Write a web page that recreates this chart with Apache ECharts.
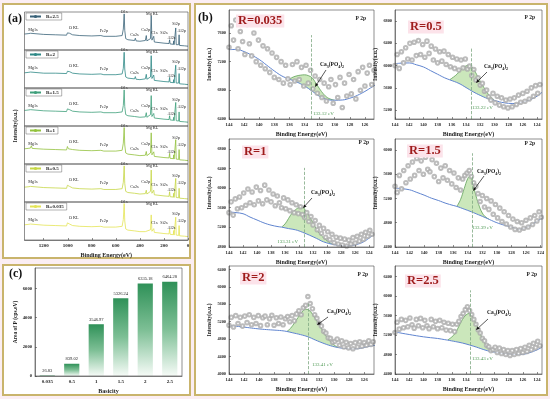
<!DOCTYPE html>
<html><head><meta charset="utf-8">
<script src="https://cdn.jsdelivr.net/npm/echarts@6/dist/echarts.min.js"></script>
<style>
html,body{margin:0;padding:0;background:#fbeef3;}
#wrap{position:relative;width:550px;height:399px;}
.panel{position:absolute;box-sizing:border-box;border:2px solid #c9b46c;background:#fff;}
#chart{position:absolute;left:0;top:0;width:550px;height:399px;}
</style></head><body>
<div id="wrap">
<div class="panel" style="left:2px;top:3px;width:189px;height:256px"></div>
<div class="panel" style="left:2px;top:264px;width:189px;height:132px"></div>
<div class="panel" style="left:194px;top:3px;width:354px;height:393px"></div>
<div id="chart"></div>
</div>
<script>
// ---------------- (a) XPS survey spectra ----------------
const surveyNames = ['R=2.5','R=2','R=1.5','R=1','R=0.5','R=0.035'];
const surveyTicks = [0,200,400,600,800,1000,1200];
const s25 = [[1360,42],[1330,43],[1310,44],[1303,49],[1296,43],[1200,41],[1100,40],[1010,39],[1003,45],[995,42],[985,44],[960,40],[900,38],[800,37],[725,38],[712,41],[700,36],[600,36],[548,38],[538,55],[531,95],[526,52],[518,30],[500,27],[445,25],[438,31],[432,24],[400,23],[355,25],[347,38],[342,24],[312,30],[306,90],[300,26],[289,27],[285,36],[280,21],[200,18],[158,17],[153,27],[149,16],[122,15],[119,24],[116,14],[106,16],[102,58],[98,14],[78,14],[74,40],[70,12],[30,11],[0,10]];
const s2 = [[1360,40],[1330,41],[1310,42],[1303,47],[1296,41],[1200,39],[1100,39],[1010,38],[1003,44],[995,41],[985,43],[960,39],[900,37],[800,36],[725,37],[712,40],[700,35],[600,35],[548,37],[538,52],[531,94],[526,50],[518,29],[500,26],[445,24],[438,30],[432,23],[400,22],[355,24],[347,36],[342,23],[312,29],[306,85],[300,25],[289,26],[285,34],[280,20],[200,17],[158,16],[153,28],[149,15],[122,14],[119,22],[116,13],[106,15],[102,60],[98,13],[78,13],[74,38],[70,11],[30,10],[0,9]];
const s15 = [[1360,41],[1330,42],[1310,43],[1303,48],[1296,42],[1200,40],[1100,39],[1010,38],[1003,45],[995,41],[985,43],[960,39],[900,37],[800,36],[725,37],[712,40],[700,35],[600,35],[548,37],[538,54],[531,95],[526,51],[518,30],[500,27],[445,25],[438,30],[432,24],[400,23],[355,24],[347,35],[342,23],[312,30],[306,80],[300,25],[289,26],[285,33],[280,21],[200,18],[158,17],[153,27],[149,16],[122,15],[119,23],[116,14],[106,15],[102,62],[98,14],[78,13],[74,37],[70,12],[30,11],[0,10]];
const s1 = [[1360,40],[1330,41],[1310,42],[1303,48],[1296,41],[1200,39],[1100,38],[1010,37],[1003,46],[995,40],[985,42],[960,38],[900,36],[800,35],[725,36],[712,39],[700,34],[600,34],[548,36],[538,55],[531,96],[526,50],[518,29],[500,26],[445,24],[438,29],[432,23],[400,22],[355,23],[347,33],[342,22],[312,29],[306,82],[300,24],[289,25],[285,32],[280,20],[200,17],[158,16],[153,28],[149,15],[122,14],[119,24],[116,13],[106,14],[102,64],[98,13],[78,12],[74,38],[70,11],[30,10],[0,9]];
const s05 = [[1360,39],[1330,40],[1310,41],[1303,46],[1296,40],[1200,38],[1100,37],[1010,36],[1003,44],[995,39],[985,41],[960,37],[900,35],[800,34],[725,35],[712,38],[700,33],[600,33],[548,35],[538,52],[531,95],[526,49],[518,28],[500,25],[445,23],[438,28],[432,22],[400,21],[355,22],[347,31],[342,21],[312,28],[306,84],[300,23],[289,24],[285,31],[280,19],[200,16],[158,15],[153,27],[149,14],[122,13],[119,23],[116,12],[106,13],[102,62],[98,12],[78,11],[74,36],[70,10],[30,9],[0,8]];
const s035 = [[1360,40],[1330,41],[1310,42],[1303,47],[1296,41],[1200,39],[1100,38],[1010,37],[1003,45],[995,40],[985,42],[960,38],[900,36],[800,35],[725,36],[712,39],[700,34],[600,34],[548,36],[538,54],[531,96],[526,50],[518,29],[500,26],[445,24],[400,22],[355,22],[312,27],[306,66],[300,23],[289,24],[285,30],[280,20],[200,17],[158,16],[153,29],[149,15],[122,14],[119,25],[116,13],[106,14],[102,60],[98,13],[78,12],[74,38],[70,11],[30,10],[0,9]];
const surveySets = [s25, s2, s15, s1, s05, s035];
const surveyPeakNames = ['Mg1s','O KL','Fe2p','O1s','Ca2s','Ca2p','Mg KL','C1s','Si2s','Al2s','Si2p','Al2p'];

// ---------------- (c) peak area vs basicity ----------------
const basicity = ['0.035','0.5','1','1.5','2','2.5'];
const areaP = [26.83, 839.02, 3546.97, 5326.24, 6335.18, 6464.28];
const areaTicks = [0,2000,4000,6000];

// ---------------- (b) P 2p high-resolution spectra ----------------
const p2pNames = ['R=0.035','R=0.5','R=1','R=1.5','R=2','R=2.5'];
const peakCenter = [133.12, 133.22, 133.31, 133.39, 133.41, 133.43];
const scanBE = [144.0,143.7,143.4,143.1,142.8,142.5,142.2,141.9,141.6,141.3,141.0,140.7,140.4,140.1,139.8,139.5,139.2,138.9,138.6,138.3,138.0,137.7,137.4,137.1,136.8,136.5,136.2,135.9,135.6,135.3,135.0,134.7,134.4,134.1,133.8,133.5,133.2,132.9,132.6,132.3,132.0,131.7,131.4,131.1,130.8,130.5,130.2,129.9,129.6,129.3,129.0,128.7,128.4,128.1,127.8,127.5,127.2,126.9,126.6,126.3,126.0,125.7,125.4,125.1,124.8,124.5,124.2,123.9,123.6];
const scan035 = [7400,7700,7500,7780,7380,7620,7480,7300,7720,7450,7280,7600,7200,7500,7150,7420,7100,7380,7050,7320,6980,7260,6950,7200,6900,7150,6960,6880,7160,6930,7200,6950,7120,6860,7150,6900,7080,6820,7000,6760,6950,6700,6900,6650,6850,6950,6620,6880,6700,6980,6560,6900,6720,7020,6750,6950,6680,7060,6800,7120,6860,7040,7150,6880,7080,6950,7100,7000,7150];
const scan05 = [6000,6200,5950,6250,6050,6320,6120,6400,6100,6420,6180,6450,6200,6380,6150,6440,6220,6350,6100,6300,6050,6250,6080,6260,6020,6200,5980,6150,5950,6120,5920,6100,5960,6120,5940,5990,5820,5930,5740,5780,5650,5680,5540,5560,5440,5380,5500,5330,5450,5290,5420,5260,5380,5240,5400,5260,5420,5300,5470,5340,5500,5360,5540,5400,5600,5450,5640,5500,5660];
const scan1 = [5500,5720,5450,5780,5580,5820,5600,5900,5650,5980,5700,5920,5660,6020,5740,5950,5680,6060,5760,5960,5720,5880,5640,5840,5700,5600,5800,5580,5760,5540,5700,5500,5660,5480,5620,5460,5400,5500,5320,5420,5250,5340,5150,5240,5080,5180,5000,5110,4950,5060,4890,5000,4860,4980,4840,4960,4820,4940,4860,4990,4880,5020,4920,5060,4960,5100,5020,5140,5060];
const scan15 = [5400,5300,5580,5360,5660,5460,5740,5520,5800,5580,5860,5660,5820,5600,5880,5680,5640,5840,5560,5780,5480,5700,5540,5740,5500,5660,5440,5620,5380,5540,5340,5520,5580,5620,5660,5560,5460,5400,5280,5150,5250,5060,5200,5020,5160,4940,5100,4880,5040,4820,4980,4780,4920,4730,4860,4690,4820,4680,4800,4710,4840,4730,4880,4770,4920,4830,4980,4890,5040];
const scan2 = [5120,5300,5080,5340,5160,5300,5100,5330,5180,5360,5130,5300,5160,5340,5110,5290,5330,5130,5270,5350,5120,5290,5160,5310,5130,5270,5320,5200,5340,5220,5380,5450,5360,5520,5580,5780,5620,5500,5360,5280,5170,5100,4980,4940,4830,4820,4730,4750,4800,4660,4760,4620,4730,4600,4700,4580,4720,4620,4740,4640,4720,4660,4760,4680,4740,4690,4760,4710,4780];
const scan25 = [5250,5460,5320,5520,5350,5500,5370,5550,5410,5340,5520,5390,5540,5350,5500,5390,5330,5520,5370,5480,5330,5500,5350,5460,5300,5440,5290,5420,5270,5420,5480,5580,5640,5720,5780,5700,5620,5520,5420,5310,5240,5130,5080,4990,4960,4880,4900,4950,4840,4930,4820,4900,4800,4880,4780,4880,4800,4900,4820,4920,4840,4950,4860,4990,4900,5030,4940,5070,4980];
const bg035 = [[144,7367],[143,7370],[142,7340],[141,7290],[140,7230],[139,7150],[138,7070],[137,7000],[136,6955],[135,6915],[134,6860],[133,6790],[132,6715],[131,6672],[130,6662],[129,6665],[128,6690],[127,6730],[126,6785],[125,6850],[124.5,6880]];
const env035 = [[136,6955],[135.5,6985],[135,7002],[134.5,7012],[134,7016],[133.5,7005],[133,6975],[132.5,6900],[132,6820],[131.5,6750],[131,6700],[130.5,6675],[130,6662]];
const bg05 = [[144,6036],[143,6045],[142,6048],[141,6015],[140,5976],[139,5910],[138,5845],[137,5780],[136.3,5745],[135,5680],[134,5606],[133,5530],[132,5465],[131,5410],[130,5375],[129,5340],[128,5322],[127,5318],[126,5345],[125,5385],[124,5450],[123.3,5520]];
const env05 = [[136.3,5745],[135.5,5820],[135,5880],[134.5,5950],[134,5995],[133.5,6005],[133,5950],[132.5,5840],[132,5720],[131.5,5610],[131,5510],[130.5,5430],[130,5375]];
const bg1 = [[144,5514],[143,5500],[142,5478],[141,5410],[140,5350],[139,5290],[138,5245],[137,5215],[136.5,5205],[135.5,5175],[134.5,5150],[133.5,5100],[132.5,5040],[131.5,4975],[130.5,4905],[129,4848],[128,4830],[127,4825],[126,4845],[125,4890],[124,4980],[123.3,5060]];
const env1 = [[136.5,5205],[136,5270],[135.5,5380],[135,5490],[134.5,5560],[134,5600],[133.5,5600],[133,5530],[132.5,5420],[132,5290],[131.5,5160],[131,5060],[130.5,4985],[130,4930],[129.5,4880],[129,4848]];
const bg15 = [[144,5370],[143,5360],[142,5343],[141,5300],[140,5255],[139,5205],[138,5165],[137,5120],[136,5085],[135.5,5069],[134.5,5025],[133.5,4980],[132.5,4930],[131.5,4880],[131,4852],[130,4800],[129,4760],[128,4730],[127,4690],[126,4720],[125,4785],[124,4860],[123.6,4890]];
const env15 = [[135.5,5069],[135,5180],[134.5,5360],[134,5530],[133.7,5570],[133.4,5500],[133,5300],[132.5,5100],[132,4960],[131.5,4890],[131,4852]];
const bg2 = [[144,5107],[143,5095],[142,5077],[141,5055],[140,5035],[139,5020],[138,5008],[137,4995],[136.3,4977],[135.5,4945],[134.5,4905],[133.5,4855],[132.5,4780],[131.5,4710],[130.5,4650],[129.5,4608],[128.5,4585],[127.5,4578],[126.5,4590],[125.5,4630],[124.5,4660]];
const env2 = [[136.3,4977],[135.8,5050],[135.3,5170],[134.8,5300],[134.3,5420],[133.8,5490],[133.4,5470],[133,5400],[132.5,5270],[132,5130],[131.5,4990],[131,4850],[130.5,4740],[130,4665],[129.5,4608]];
const bg25 = [[144,5265],[143,5235],[142,5210],[141,5185],[140,5163],[139,5145],[138,5129],[137,5105],[136.6,5095],[135.5,5065],[134.5,5035],[133.5,4995],[132.5,4950],[131.5,4900],[130.5,4860],[130,4850],[129,4825],[128,4808],[127,4802],[126,4805],[125,4840],[124,4895],[123.3,4950]];
const env25 = [[136.6,5095],[136,5160],[135.5,5240],[135,5380],[134.5,5520],[134,5610],[133.6,5640],[133.2,5600],[132.8,5500],[132.4,5370],[132,5230],[131.5,5070],[131,4960],[130.5,4885],[130,4850]];
const scanSets = [scan035, scan05, scan1, scan15, scan2, scan25];
const bgSets = [bg035, bg05, bg1, bg15, bg2, bg25];
const envSets = [env035, env05, env1, env15, env2, env25];
const p2pYTicks = [[6400,6800,7200,7600],[5200,5600,6000,6400,6800],[4800,5200,5600,6000,6400,6800],[4400,4800,5200,5600,6000],[4000,4400,4800,5200,5600,6000,6400],[4400,4800,5200,5600,6000,6400]];
const p2pXTicks = [[126,128,130,132,134,136,138,140,142,144],[124,126,128,130,132,134,136,138,140,142,144],[124,126,128,130,132,134,136,138,140,142,144],[124,126,128,130,132,134,136,138,140,142,144],[126,128,130,132,134,136,138,140,142,144],[124,126,128,130,132,134,136,138,140,142,144]];

// ---------------- layout / style config ----------------
const FONT = 'Liberation Serif';
const surveyColors = ['#3a6379','#2f8987','#3f9f7b','#93c23e','#c6d746','#e4e456'];
const surveyLabelPos = {'Mg1s':[1290,53],'O KL':[950,57],'Fe2p':[700,49],'O1s':[531,100],'Ca2s':[445,40],'Ca2p':[352,52],'Mg KL':[298,94],'C1s':[280,44],'Si2s':[200,46],'Al2s':[138,32],'Si2p':[100,68],'Al2p':[52,50]};
const p2pRange = [{x:[124.8,144],y:[6400,7920]},{x:[123.3,144],y:[5040,7000]},{x:[123.3,144],y:[4800,7000]},{x:[123.8,144],y:[4400,6180]},{x:[124.7,144],y:[4000,6480]},{x:[123.3,144],y:[4400,6615]}];
const p2pGrid = [{left:229,top:10,width:145,height:109},{left:395,top:10,width:147,height:109},{left:229,top:139,width:145,height:108},{left:395,top:139,width:147,height:108},{left:229,top:266,width:145,height:108},{left:395,top:266,width:147,height:108}];
const dashTop = [7570,6334,6412,5945,5630,6116];
const rLabelPos = [[236,21],[408,27],[242,152],[407,151],[240,278],[405,281]];
const p2pTagPos = [[366,19],[535,18],[369,143],[535,144],[368,275],[537,275]];
const caLabelPos = [[332,65],[496,67],[323,193],[489,172],[339,312],[499,313]];
const arrowPos = [[326,70,315,87],[487,72,476,83],[312,198,303,208],[484,176,473,191],[328,317,317,325],[488,319,476,330]];
const evLabelPos = [[313,114,'left'],[472,108,'left'],[298,242,'right'],[472,228,'left'],[312,365,'left'],[472,359,'left']];

const grid = [], xAxis = [], yAxis = [], series = [], legend = [], graphic = [];
const plain = v => String(v);
const tickFont = {fontFamily: FONT, fontWeight: 'bold', fontSize: 4.6, color: '#222', formatter: plain};

// survey grids
surveySets.forEach((data, i) => {
  grid.push({left: 24.5, top: 12 + i * 38, width: 163.5, height: 38, show: true, borderColor: '#444', borderWidth: 0.6, z: 10});
  const last = i === surveySets.length - 1;
  xAxis.push({gridIndex: i, type: 'value', min: 0, max: 1360, inverse: true, show: last,
    axisLine: {lineStyle: {color: '#444', width: 0.6}},
    axisTick: {inside: true, length: 2, customValues: surveyTicks, lineStyle: {width: 0.6}},
    axisLabel: {customValues: surveyTicks, margin: 3, ...tickFont, fontSize: 5},
    splitLine: {show: false},
    name: last ? 'Binding Energy(eV)' : '', nameLocation: 'middle', nameGap: 12,
    nameTextStyle: {fontFamily: FONT, fontWeight: 'bold', fontSize: 6, color: '#222'}});
  yAxis.push({gridIndex: i, type: 'value', min: 0, max: 100, show: false});
  const names = surveyPeakNames.filter(n => !(last && (n === 'Ca2s' || n === 'Ca2p')));
  series.push({name: surveyNames[i], type: 'line', xAxisIndex: i, yAxisIndex: i, data: data,
    symbol: 'none', lineStyle: {color: surveyColors[i], width: 0.8}, itemStyle: {color: surveyColors[i]},
    z: 3,
    markPoint: {symbol: 'circle', symbolSize: 0, silent: true,
      label: {show: true, position: 'inside', formatter: '{b}', fontFamily: FONT, fontSize: 4.2, color: '#222'},
      data: names.map(n => ({name: n, coord: surveyLabelPos[n]}))}});
  legend.push({data: [surveyNames[i]], left: 26, top: 13 + i * 38, orient: 'horizontal',
    itemWidth: 11, itemHeight: 4, itemGap: 2, itemTextGap: 3, padding: [1, 3],
    borderColor: '#666', borderWidth: 0.5, backgroundColor: '#fff',
    textStyle: {fontFamily: FONT, fontWeight: 'bold', fontSize: 5, color: '#222'}});
});

// bar grid (index 6)
grid.push({left: 35, top: 268, width: 147, height: 108, show: true, borderColor: '#444', borderWidth: 0.6, z: 10});
xAxis.push({gridIndex: 6, type: 'category', data: basicity,
  axisLine: {lineStyle: {color: '#444', width: 0.6}}, axisTick: {inside: true, length: 2, lineStyle: {width: 0.6}},
  axisLabel: {margin: 3, fontFamily: FONT, fontWeight: 'bold', fontSize: 5, color: '#222'},
  name: 'Basicity', nameLocation: 'middle', nameGap: 12,
  nameTextStyle: {fontFamily: FONT, fontWeight: 'bold', fontSize: 6, color: '#222'}});
yAxis.push({gridIndex: 6, type: 'value', min: 0, max: 7400,
  axisLine: {show: true, lineStyle: {color: '#444', width: 0.6}},
  axisTick: {show: true, inside: true, length: 2, customValues: areaTicks, lineStyle: {width: 0.6}},
  axisLabel: {customValues: areaTicks, margin: 3, ...tickFont, fontSize: 4.6},
  splitLine: {show: false},
  name: 'Area of P (cps.eV)', nameLocation: 'middle', nameGap: 14,
  nameTextStyle: {fontFamily: FONT, fontWeight: 'bold', fontSize: 5.5, color: '#222'}});
series.push({name: 'Area', type: 'bar', xAxisIndex: 6, yAxisIndex: 6, data: areaP, barWidth: '62%',
  itemStyle: {color: new echarts.graphic.LinearGradient(0, 0, 0, 1, [
    {offset: 0, color: '#2f9158'}, {offset: 0.5, color: '#7dbf95'}, {offset: 1, color: '#f6fbf7'}])},
  label: {show: true, position: 'top', distance: 2, formatter: p => p.value.toFixed(2),
    fontFamily: FONT, fontSize: 4.5, color: '#222'}});

// P 2p grids (index 7..12)
scanSets.forEach((ys, k) => {
  const gi = 7 + k;
  const r = p2pRange[k];
  grid.push({...p2pGrid[k], show: true, borderColor: '#444', borderWidth: 0.6, z: 10});
  xAxis.push({gridIndex: gi, type: 'value', min: r.x[0], max: r.x[1], inverse: true, z: 10,
    axisLine: {lineStyle: {color: '#444', width: 0.6}},
    axisTick: {inside: true, length: 2, customValues: p2pXTicks[k], lineStyle: {width: 0.6}},
    axisLabel: {customValues: p2pXTicks[k], margin: 3, ...tickFont},
    splitLine: {show: false},
    name: 'Binding Energy(eV)', nameLocation: 'middle', nameGap: 12,
    nameTextStyle: {fontFamily: FONT, fontWeight: 'bold', fontSize: 6, color: '#222'}});
  yAxis.push({gridIndex: gi, type: 'value', min: r.y[0], max: r.y[1], z: 10,
    axisLine: {show: true, lineStyle: {color: '#444', width: 0.6}},
    axisTick: {show: true, inside: true, length: 2, customValues: p2pYTicks[k], lineStyle: {width: 0.6}},
    axisLabel: {customValues: p2pYTicks[k], margin: 3, ...tickFont, fontSize: 4.3},
    splitLine: {show: false},
    name: 'Intensity(a.u.)', nameLocation: 'middle', nameGap: 16,
    nameTextStyle: {fontFamily: FONT, fontWeight: 'bold', fontSize: 5.5, color: '#222'}});
  series.push({name: 'fit' + k, type: 'line', xAxisIndex: gi, yAxisIndex: gi, data: envSets[k], smooth: 0.4,
    symbol: 'none', lineStyle: {color: '#5f9f58', width: 0.8}, areaStyle: {color: '#cbe7bb', opacity: 1}, z: 1});
  series.push({name: 'bg' + k, type: 'line', xAxisIndex: gi, yAxisIndex: gi, data: bgSets[k], smooth: 0.4,
    symbol: 'none', lineStyle: {color: '#5f84cf', width: 1}, areaStyle: {color: '#ffffff', opacity: 1}, z: 2});
  series.push({name: 'raw' + k, type: 'scatter', xAxisIndex: gi, yAxisIndex: gi,
    data: scanBE.map((x, j) => [x, ys[j]]), symbol: 'emptyCircle', symbolSize: 3.6,
    itemStyle: {color: '#ababab', borderColor: '#ababab', borderWidth: 0.45}, z: 3,
    markLine: {silent: true, symbol: ['none', 'none'], label: {show: false},
      lineStyle: {color: '#7fa883', type: 'dashed', width: 0.8},
      data: [[{coord: [peakCenter[k], r.y[0]]}, {coord: [peakCenter[k], dashTop[k]]}]]}});
});

// texts & arrows
const bold = s => `bold ${s}px "${FONT}"`;
graphic.push({type: 'text', x: 8, y: 19, style: {text: '(a)', font: bold(12), fill: '#111', verticalAlign: 'middle'}, z: 100});
graphic.push({type: 'text', x: 198, y: 18, style: {text: '(b)', font: bold(12), fill: '#111', verticalAlign: 'middle'}, z: 100});
graphic.push({type: 'text', x: 9, y: 274, style: {text: '(c)', font: bold(12), fill: '#111', verticalAlign: 'middle'}, z: 100});
graphic.push({type: 'text', x: 16, y: 126, rotation: Math.PI / 2,
  style: {text: 'Intensity(a.u.)', font: bold(5.5), fill: '#222', align: 'center', verticalAlign: 'middle'}, z: 100});
p2pNames.forEach((n, k) => {
  graphic.push({type: 'text', x: rLabelPos[k][0], y: rLabelPos[k][1],
    style: {text: n, font: bold(12.5), fill: '#9e1b1b', verticalAlign: 'middle', backgroundColor: '#fce3ea', padding: [0, 2]}, z: 100});
  graphic.push({type: 'text', x: p2pTagPos[k][0], y: p2pTagPos[k][1],
    style: {text: 'P 2p', font: bold(5.5), fill: '#222', align: 'right', verticalAlign: 'middle'}, z: 100});
  graphic.push({type: 'text', x: caLabelPos[k][0], y: caLabelPos[k][1],
    style: {text: '{m|Ca}{s|3}{m|(PO}{s|4}{m|)}{s|2}', align: 'center', verticalAlign: 'middle',
      rich: {m: {font: bold(5.5), fill: '#111', lineHeight: 8, verticalAlign: 'middle'},
             s: {font: bold(4), fill: '#111', lineHeight: 4, verticalAlign: 'bottom'}}}, z: 100});
  const [x1, y1, x2, y2] = arrowPos[k];
  const ang = Math.atan2(y2 - y1, x2 - x1), L = 3.6, W = 1.6;
  const bx = x2 - L * Math.cos(ang), by = y2 - L * Math.sin(ang);
  const px = -Math.sin(ang) * W, py = Math.cos(ang) * W;
  graphic.push({type: 'line', shape: {x1, y1, x2: bx, y2: by}, style: {stroke: '#111', lineWidth: 0.7}, z: 100});
  graphic.push({type: 'polygon', shape: {points: [[x2, y2], [bx + px, by + py], [bx - px, by - py]]}, style: {fill: '#111'}, z: 100});
  const [ex, ey, ea] = evLabelPos[k];
  graphic.push({type: 'text', x: ex, y: ey,
    style: {text: peakCenter[k].toFixed(2) + ' eV', font: `5px "${FONT}"`, fill: '#4f9a55', align: ea, verticalAlign: 'middle'}, z: 100});
});

const chart = echarts.init(document.getElementById('chart'), null, {renderer: 'canvas'});
chart.setOption({animation: false, backgroundColor: 'transparent', grid, xAxis, yAxis, series, legend, graphic});
</script>
</body></html>
